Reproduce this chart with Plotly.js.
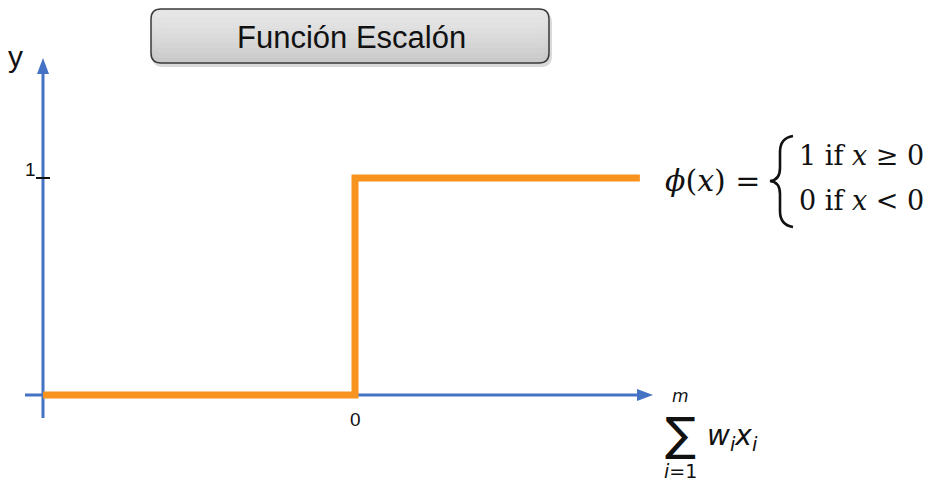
<!DOCTYPE html>
<html>
<head>
<meta charset="utf-8">
<script src="https://cdn.plot.ly/plotly-3.0.1.min.js"></script>
<style>html,body{margin:0;padding:0;background:#fff;}#chart{width:945px;height:493px;}</style>
</head>
<body>
<div id="chart"></div>
<script>
// ---- data ----
const stepX = [-1, 0, 0, 0.913];
const stepY = [0, 0, 1, 1];
const yTickVals = [1];
const yTickText = ['1'];
const xTickVals = [0];
const xTickText = ['0'];
const titleText = 'Función Escalón';

// ---- pixel helpers (layout only) ----
const W = 945, H = 493;
const X0PX = 355, XU = 312;   // pixel of x=0, pixels per x unit
const Y0PX = 395, YU = 217;   // pixel of y=0, pixels per y unit
const dx = px => (px - X0PX) / XU;
const dy = py => (Y0PX - py) / YU;
const fx = px => px / W;
const fy = py => 1 - py / H;
const P = (a, b) => dx(a) + ',' + dy(b);

function roundRect(x1, y1, x2, y2, r) {
  return 'M' + P(x1 + r, y1) + ' L' + P(x2 - r, y1) + ' Q' + P(x2, y1) + ' ' + P(x2, y1 + r) +
    ' L' + P(x2, y2 - r) + ' Q' + P(x2, y2) + ' ' + P(x2 - r, y2) +
    ' L' + P(x1 + r, y2) + ' Q' + P(x1, y2) + ' ' + P(x1, y2 - r) +
    ' L' + P(x1, y1 + r) + ' Q' + P(x1, y1) + ' ' + P(x1 + r, y1) + ' Z';
}
function tri(pts) {
  return 'M' + pts.map(p => P(p[0], p[1])).join(' L') + ' Z';
}

const blue = '#4472C4';
const orange = '#F7931E';

const traces = [{
  x: stepX, y: stepY, type: 'scatter', mode: 'lines',
  line: {color: orange, width: 7, shape: 'linear'},
  hoverinfo: 'skip', showlegend: false
}];

const shapes = [
  // title box shadow
  {type: 'path', layer: 'below', xref: 'x', yref: 'y', path: roundRect(152, 12, 552, 67, 11),
   fillcolor: 'rgba(0,0,0,0.15)', line: {width: 0}},
  // title box base (darker bottom)
  {type: 'path', layer: 'below', xref: 'x', yref: 'y', path: roundRect(151, 9, 549, 63, 10),
   fillcolor: '#c9c9c9', line: {width: 0}}
];
// light gradient towards the top
for (let k = 0; k < 9; k++) {
  shapes.push({type: 'path', layer: 'below', xref: 'x', yref: 'y',
    path: roundRect(151, 9, 549, 58 - k * 5, 10),
    fillcolor: 'rgba(255,255,255,0.09)', line: {width: 0}});
}
shapes.push(
  {type: 'path', layer: 'below', xref: 'x', yref: 'y', path: roundRect(151, 9, 549, 63, 10),
   fillcolor: 'rgba(0,0,0,0)', line: {color: '#3a3a3a', width: 1.5}},
  // y axis line
  {type: 'line', layer: 'below', xref: 'x', yref: 'y', x0: dx(43), x1: dx(43), y0: dy(418), y1: dy(70),
   line: {color: blue, width: 3}},
  // x axis line
  {type: 'line', layer: 'below', xref: 'x', yref: 'y', x0: dx(25), x1: dx(640), y0: 0, y1: 0,
   line: {color: blue, width: 3}},
  // arrowheads
  {type: 'path', layer: 'below', xref: 'x', yref: 'y', path: tri([[43, 58], [37, 74], [49, 74]]),
   fillcolor: blue, line: {width: 0}},
  {type: 'path', layer: 'below', xref: 'x', yref: 'y', path: tri([[653, 395], [637, 389], [637, 401]]),
   fillcolor: blue, line: {width: 0}},
  // tick at y=1
  {type: 'line', layer: 'below', xref: 'x', yref: 'y', x0: dx(36), x1: dx(50), y0: yTickVals[0], y1: yTickVals[0],
   line: {color: '#111', width: 2}},
  // curly brace of the formula
  {type: 'path', layer: 'above', xref: 'x', yref: 'y',
   path: 'M' + P(793, 136) + ' Q' + P(780, 138) + ' ' + P(780, 152) + ' L' + P(780, 168) +
         ' Q' + P(780, 180) + ' ' + P(770, 181) + ' Q' + P(780, 182) + ' ' + P(780, 194) +
         ' L' + P(780, 211) + ' Q' + P(780, 225) + ' ' + P(793, 227),
   line: {color: '#111', width: 2.6}}
);

const sans = 'Liberation Sans, Arial, sans-serif';
const A = (o) => Object.assign({xref: 'paper', yref: 'paper', showarrow: false, xanchor: 'center', yanchor: 'middle'}, o);
const annotations = [
  A({x: fx(351), y: fy(37), text: titleText, font: {family: sans, size: 31, color: '#111'}}),
  A({x: fx(15), y: fy(56), text: 'y', font: {family: sans, size: 30, color: '#111'}}),
  A({xref: 'x', yref: 'y', x: dx(30), y: yTickVals[0] + 9 / YU, text: yTickText[0],
     font: {family: sans, size: 19, color: '#111'}}),
  A({xref: 'x', yref: 'y', x: xTickVals[0], y: dy(419), text: xTickText[0],
     font: {family: sans, size: 19, color: '#111'}}),
  // formula
  A({x: fx(712), y: fy(180), text: '<i>ϕ</i>(<i>x</i>) =',
     font: {family: 'DejaVu Serif, serif', size: 30, color: '#111'}}),
  A({x: fx(797), y: fy(155), xanchor: 'left', text: '1 if <i>x</i> ≥ 0',
     font: {family: 'DejaVu Serif, serif', size: 27, color: '#111'}}),
  A({x: fx(797), y: fy(201), xanchor: 'left', text: '0 if <i>x</i> &lt; 0',
     font: {family: 'DejaVu Serif, serif', size: 27, color: '#111'}}),
  // sum label
  A({x: fx(680), y: fy(434), text: '∑', font: {family: 'DejaVu Sans, sans-serif', size: 46, color: '#111'}}),
  A({x: fx(680), y: fy(396), text: '<i>m</i>', font: {family: 'DejaVu Sans, sans-serif', size: 17, color: '#111'}}),
  A({x: fx(680), y: fy(471), text: '<i>i</i>=1', font: {family: 'DejaVu Sans, sans-serif', size: 19, color: '#111'}}),
  A({x: fx(705), y: fy(437), xanchor: 'left', text: '<i>w<sub>i</sub>x<sub>i</sub></i>',
     font: {family: 'DejaVu Sans, sans-serif', size: 28, color: '#111'}})
];

const layout = {
  width: W, height: H,
  margin: {l: 0, r: 0, t: 0, b: 0},
  paper_bgcolor: '#fff', plot_bgcolor: '#fff',
  showlegend: false,
  xaxis: {range: [dx(0), dx(W)], visible: false, fixedrange: true},
  yaxis: {range: [dy(H), dy(0)], visible: false, fixedrange: true},
  shapes: shapes,
  annotations: annotations
};

Plotly.newPlot('chart', traces, layout, {displayModeBar: false, staticPlot: true});
</script>
</body>
</html>
